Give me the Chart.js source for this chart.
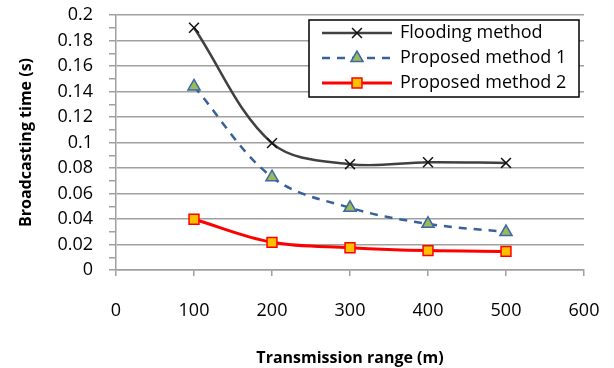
<!DOCTYPE html>
<html>
<head>
<meta charset="utf-8">
<script src="https://cdn.jsdelivr.net/npm/chart.js@4.4.1/dist/chart.umd.min.js"></script>
<style>
  html, body { margin:0; padding:0; background:#fff; }
  #wrap { width:614px; height:368px; }
</style>
</head>
<body>
<div id="wrap"><canvas id="chart" width="614" height="368"></canvas></div>
<script>
// data
const ranges     = [100, 200, 300, 400, 500];
const flooding   = [0.190, 0.0995, 0.083, 0.0845, 0.084];
const proposed1  = [0.144, 0.0728, 0.0488, 0.0362, 0.0298];
const proposed2  = [0.0398, 0.0217, 0.0175, 0.0152, 0.0146];
const seriesNames = ['Flooding method', 'Proposed method 1', 'Proposed method 2'];

const FONT = "'Open Sans', 'DejaVu Sans', sans-serif";
const GRID = '#a0a0a0';

const pts = vals => vals.map((v, i) => ({ x: ranges[i], y: v }));

// legend drawn inside the plot, boxed, top right
const boxLegend = {
  id: 'boxLegend',
  afterDatasetsDraw(chart) {
    const ctx = chart.ctx;
    const x0 = 309, y0 = 20, w = 270, h = 77;
    ctx.save();
    ctx.fillStyle = '#fff';
    ctx.fillRect(x0, y0, w, h);
    ctx.strokeStyle = '#000';
    ctx.lineWidth = 1.5;
    ctx.strokeRect(x0, y0, w, h);

    chart.data.datasets.forEach((ds, i) => {
      const cy = y0 + 13 + i * 25;
      ctx.save();
      ctx.strokeStyle = ds.borderColor;
      ctx.lineWidth = ds.borderWidth;
      ctx.setLineDash(ds.borderDash || []);
      ctx.beginPath();
      ctx.moveTo(322, cy);
      ctx.lineTo(392, cy);
      ctx.stroke();
      ctx.restore();

      ctx.save();
      ctx.fillStyle = ds.pointBackgroundColor;
      ctx.strokeStyle = ds.pointBorderColor;
      ctx.lineWidth = ds.pointBorderWidth;
      ctx.setLineDash([]);
      Chart.helpers.drawPoint(ctx, {
        pointStyle: ds.pointStyle, radius: ds.pointRadius, rotation: 0, borderWidth: ds.pointBorderWidth
      }, 357, cy);
      ctx.restore();

      ctx.fillStyle = '#000';
      ctx.font = '18px ' + FONT;
      ctx.textBaseline = 'middle';
      ctx.textAlign = 'left';
      ctx.fillText(seriesNames[i], 400, cy);
    });
    ctx.restore();
  }
};

new Chart(document.getElementById('chart'), {
  type: 'line',
  data: {
    datasets: [
      {
        label: seriesNames[0], data: pts(flooding),
        borderColor: '#404040', borderWidth: 2.5, tension: 0.35,
        pointStyle: 'crossRot', pointRadius: 7, pointBorderWidth: 1.5,
        pointBorderColor: '#111', pointBackgroundColor: '#111'
      },
      {
        label: seriesNames[1], data: pts(proposed1),
        borderColor: '#386198', borderWidth: 2.5, borderDash: [8, 7], tension: 0.35,
        pointStyle: 'triangle', pointRadius: 7, pointBorderWidth: 1.5,
        pointBorderColor: '#3a68a8', pointBackgroundColor: '#9bbb59'
      },
      {
        label: seriesNames[2], data: pts(proposed2),
        borderColor: '#ff0000', borderWidth: 3, tension: 0.35,
        pointStyle: 'rect', pointRadius: 7, pointBorderWidth: 1.5,
        pointBorderColor: '#ff0000', pointBackgroundColor: '#ffc000'
      }
    ]
  },
  options: {
    responsive: false,
    animation: false,
    events: [],
    layout: { padding: { top: 15, right: 30, left: 0, bottom: 0 } },
    plugins: { legend: { display: false }, tooltip: { enabled: false } },
    scales: {
      x: {
        type: 'linear', min: 0, max: 600,
        afterFit: s => { s.height = 98; s.paddingLeft = 0; s.paddingRight = 0; },
        ticks: { stepSize: 100, padding: 24, color: '#000', font: { family: FONT, size: 18 } },
        grid: { drawOnChartArea: false, color: GRID, lineWidth: 1.5, tickLength: 6 },
        border: { color: GRID, width: 1.5 },
        title: { display: true, text: 'Transmission range (m)', color: '#000',
                 font: { family: FONT, size: 16, weight: 'bold' }, padding: { top: 0, bottom: 0 } }
      },
      y: {
        min: 0, max: 0.2,
        afterFit: s => { s.width = 116; s.paddingTop = 0; s.paddingBottom = 0; },
        ticks: {
          stepSize: 0.01, autoSkip: false, padding: 16, color: '#000',
          font: { family: FONT, size: 18 },
          callback: v => (Math.round(v * 100) % 2 === 0 ? String(Number(v.toFixed(2))) : '')
        },
        grid: {
          color: c => (Math.round(c.tick.value * 100) % 2 === 0 ? GRID : 'rgba(0,0,0,0)'),
          tickColor: GRID, lineWidth: 1.5, tickLength: 7
        },
        border: { color: GRID, width: 1.5 },
        title: { display: true, text: 'Broadcasting time (s)', color: '#000',
                 font: { family: FONT, size: 16, weight: 'bold' }, padding: { top: 17, bottom: 0 } }
      }
    }
  },
  plugins: [boxLegend]
});
</script>
</body>
</html>
